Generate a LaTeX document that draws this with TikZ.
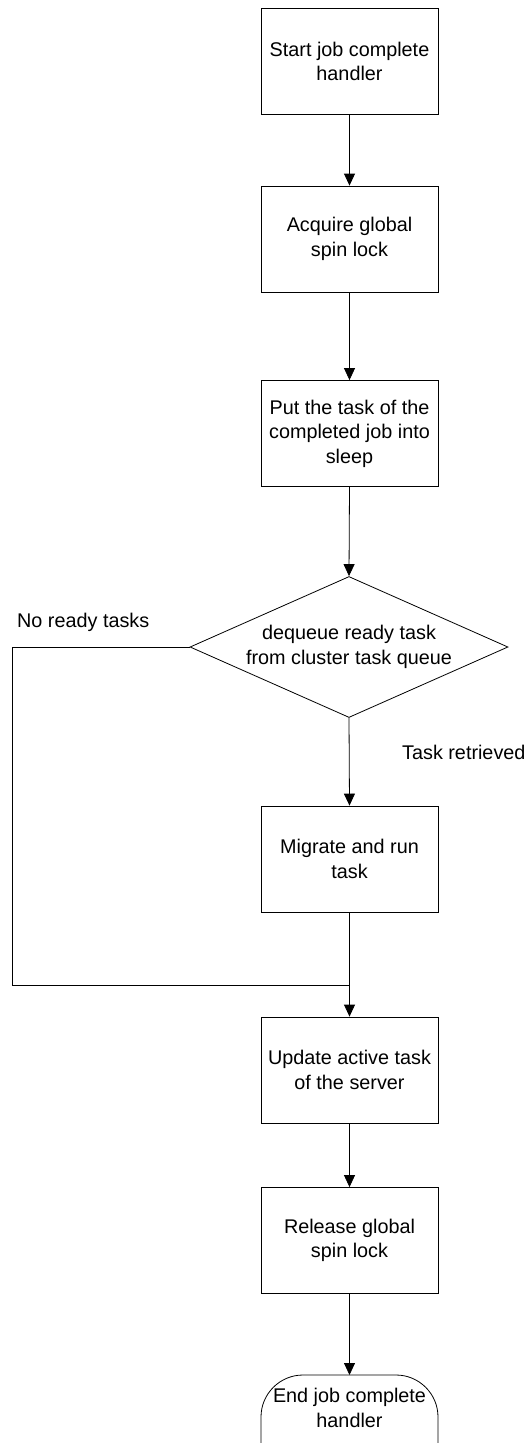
\documentclass[tikz,border=0pt]{standalone}
\usepackage{fontspec}
\setmainfont{Liberation Sans}
\usetikzlibrary{arrows.meta,shapes.geometric}
\begin{document}
\begin{tikzpicture}[x=1pt,y=-1pt,
  every node/.style={font=\fontsize{19.8pt}{24.5pt}\selectfont},
  procbox/.style={draw=black,line width=0.8pt,rectangle,minimum width=177pt,minimum height=106pt,align=center,inner sep=0pt},
  decbox/.style={draw=black,line width=0.8pt,diamond,aspect=2.255,minimum width=318pt,minimum height=141pt,align=center,inner sep=0pt},
  flow/.style={draw=black,line width=0.8pt,-{Triangle[width=11pt,length=12pt]}},
  plain/.style={draw=black,line width=0.8pt},
  lbl/.style={anchor=west,inner sep=0pt}]
\useasboundingbox (0,0) rectangle (528,1443);
\node[procbox] (start) at (349.5,61.5) {Start job complete\\handler};
\node[procbox] (acq) at (349.5,239) {Acquire global\\spin lock};
\node[procbox] (put) at (349.5,433.5) {Put the task of the\\completed job into\\sleep};
\node[decbox] (deq) at (349,647) {dequeue ready task\\from cluster task queue};
\node[procbox] (mig) at (349.5,859) {Migrate and run\\task};
\node[procbox] (upd) at (349.5,1070) {Update active task\\of the server};
\node[procbox] (rel) at (349.5,1240.5) {Release global\\spin lock};
\draw[plain,rounded corners=42pt] (261,1470) -- (261,1375) -- (438,1375) -- (438,1470);
\node[inner sep=0pt,align=center] (end) at (349.5,1408) {End job complete\\handler};
\coordinate (tt) at (349.5,1375);
\coordinate (j) at (349.5,985);
\coordinate (lc) at (12,985);
\node[lbl] (nrt) at (17,622) {No ready tasks};
\node[lbl] (tr) at (402,752) {Task retrieved};
\draw[flow] (start.south) -- (acq.north);
\draw[flow] (acq.south) -- (put.north);
\draw[flow] (put.south) -- (deq.north);
\draw[flow] (deq.south) -- (mig.north);
\draw[plain] (mig.south) -- (j);
\draw[plain] (deq.west) -| (lc) -- (j);
\draw[flow] (j) -- (upd.north);
\draw[flow] (upd.south) -- (rel.north);
\draw[flow] (rel.south) -- (tt);
\end{tikzpicture}
\end{document}
